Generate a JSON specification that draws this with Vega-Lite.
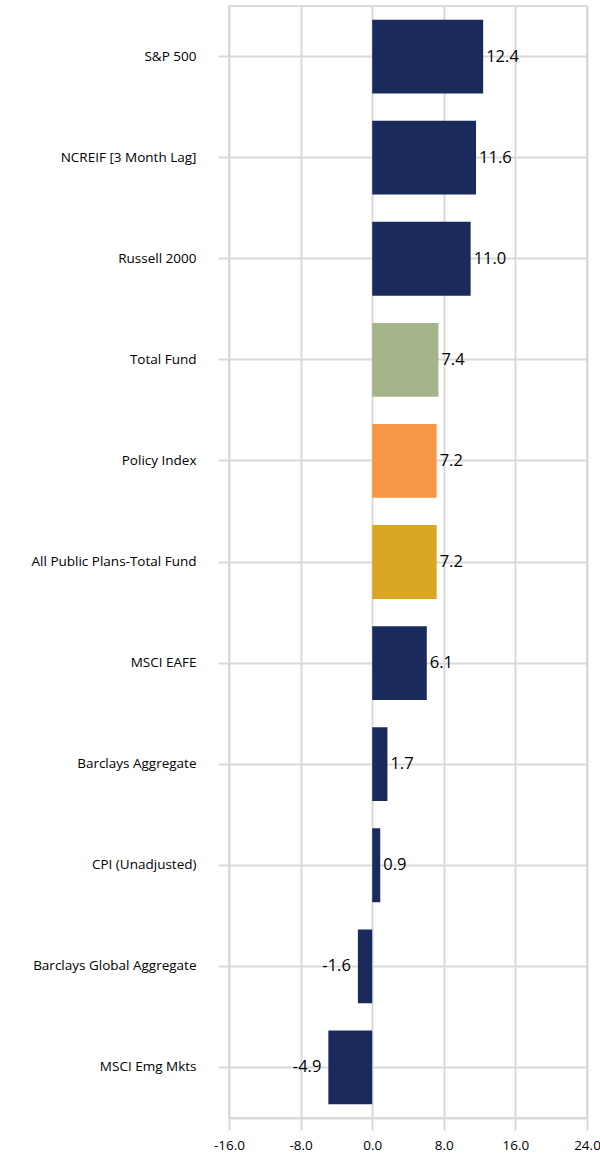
{
  "$schema": "https://vega.github.io/schema/vega-lite/v6.json",
  "autosize": {"type": "none"},
  "width": 358,
  "height": 1112,
  "padding": {"left": 229, "top": 6, "right": 13, "bottom": 40},
  "background": "white",
  "config": {
    "view": {"stroke": "#D9D9D9", "strokeWidth": 2},
    "font": "Open Sans",
    "locale": {"number": {"decimal": ".", "thousands": ",", "grouping": [3], "currency": ["$", ""], "minus": "-"}}
  },
  "data": {
    "values": [
      {"name": "S&P 500", "value": 12.4, "kind": "Index"},
      {"name": "NCREIF [3 Month Lag]", "value": 11.6, "kind": "Index"},
      {"name": "Russell 2000", "value": 11.0, "kind": "Index"},
      {"name": "Total Fund", "value": 7.4, "kind": "Total Fund"},
      {"name": "Policy Index", "value": 7.2, "kind": "Policy"},
      {"name": "All Public Plans-Total Fund", "value": 7.2, "kind": "Peer"},
      {"name": "MSCI EAFE", "value": 6.1, "kind": "Index"},
      {"name": "Barclays Aggregate", "value": 1.7, "kind": "Index"},
      {"name": "CPI (Unadjusted)", "value": 0.9, "kind": "Index"},
      {"name": "Barclays Global Aggregate", "value": -1.6, "kind": "Index"},
      {"name": "MSCI Emg Mkts", "value": -4.9, "kind": "Index"}
    ]
  },
  "encoding": {
    "y": {
      "field": "name",
      "type": "nominal",
      "sort": null,
      "title": null,
      "scale": {"paddingInner": 0.27, "paddingOuter": 0.135},
      "axis": {
        "bandPosition": 0.5,
        "grid": true,
        "gridColor": "#D9D9D9",
        "gridWidth": 2,
        "domain": false,
        "ticks": true,
        "tickColor": "#D9D9D9",
        "tickWidth": 2,
        "tickSize": 11,
        "labelPadding": 22,
        "labelFont": "Open Sans",
        "labelFontSize": 13.5,
        "labelColor": "#000000",
        "labelLimit": 300
      }
    },
    "x": {
      "field": "value",
      "type": "quantitative",
      "title": null,
      "scale": {"domain": [-16, 24], "nice": false, "zero": false},
      "axis": {
        "values": [-16, -8, 0, 8, 16, 24],
        "format": ".1f",
        "grid": true,
        "gridColor": "#D9D9D9",
        "gridWidth": 2,
        "domain": true,
        "domainColor": "#D9D9D9",
        "domainWidth": 2,
        "tickColor": "#D9D9D9",
        "tickWidth": 2,
        "tickSize": 12,
        "labelPadding": 8,
        "labelFont": "Open Sans",
        "labelFontSize": 13.5,
        "labelColor": "#000000",
        "labelFlush": false
      }
    }
  },
  "layer": [
    {
      "mark": {"type": "bar"},
      "encoding": {
        "x2": {"datum": 0},
        "color": {
          "field": "kind",
          "type": "nominal",
          "legend": null,
          "scale": {
            "domain": ["Index", "Total Fund", "Policy", "Peer"],
            "range": ["#1A2A5C", "#A5B58A", "#F79646", "#DAA623"]
          }
        }
      }
    },
    {
      "transform": [{"filter": "datum.value >= 0"}],
      "mark": {"type": "text", "align": "left", "baseline": "middle", "dx": 3, "fontSize": 16.5, "font": "Open Sans", "color": "#000000"},
      "encoding": {"text": {"field": "value", "type": "quantitative", "format": ".1f"}}
    },
    {
      "transform": [{"filter": "datum.value < 0"}],
      "mark": {"type": "text", "align": "right", "baseline": "middle", "dx": -7, "fontSize": 16.5, "font": "Open Sans", "color": "#000000"},
      "encoding": {"text": {"field": "value", "type": "quantitative", "format": ".1f"}}
    }
  ]
}
